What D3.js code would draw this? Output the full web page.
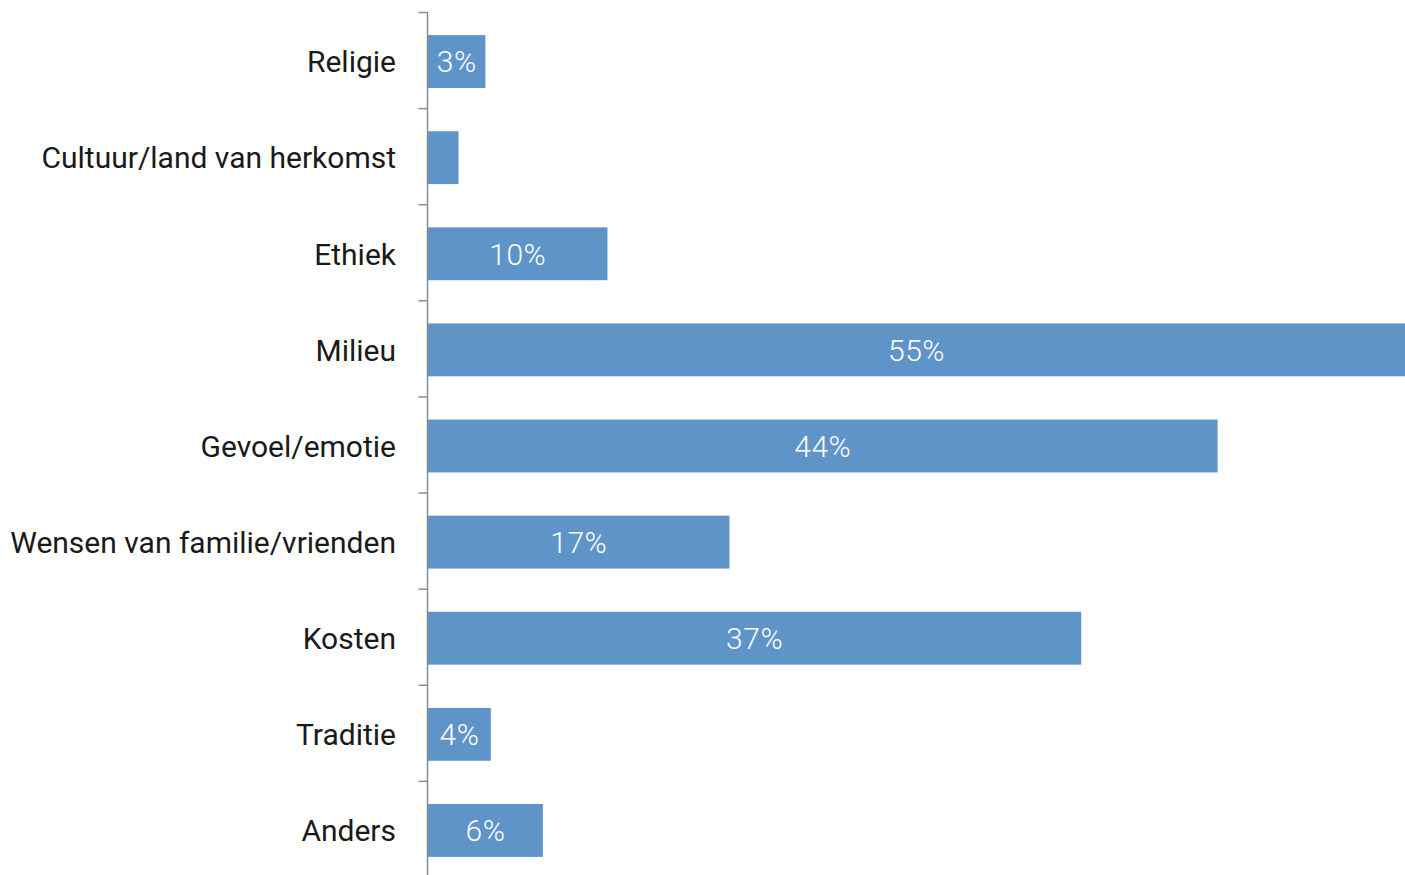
<!DOCTYPE html>
<html>
<head>
<meta charset="utf-8">
<script src="https://cdn.jsdelivr.net/npm/d3@7"></script>
<style>
  body { margin: 0; background: #fff; overflow: hidden; }
</style>
</head>
<body>
<div id="chart"></div>
<script>
// data
const categories = ["Religie", "Cultuur/land van herkomst", "Ethiek", "Milieu",
    "Gevoel/emotie", "Wensen van familie/vrienden", "Kosten", "Traditie", "Anders"];
const values = [3.2, 1.7, 10.0, 55.0, 44.0, 16.8, 36.4, 3.5, 6.4];
const valueLabels = ["3%", "", "10%", "55%", "44%", "17%", "37%", "4%", "6%"];

const width = 1405;
const height = 875;
const axisX = 427.5;

const data = categories.map((c, i) => ({ cat: c, value: values[i], label: valueLabels[i] }));

const svg = d3.select("#chart")
    .append("svg")
    .attr("width", width)
    .attr("height", height);

// scales
const x = d3.scaleLinear()
    .domain([0, 55])
    .range([428, 1415]);

const y = d3.scaleBand()
    .domain(categories)
    .range([13.5, 878.5])
    .paddingInner(0.45)
    .paddingOuter(0.225);

// boundaries between rows, for the tick marks
const yEdge = d3.scaleLinear()
    .domain([0, categories.length])
    .range([12, 877]);

// bars
svg.selectAll(".bar")
    .data(data)
    .enter()
    .append("rect")
    .attr("class", "bar")
    .attr("x", x(0))
    .attr("y", d => y(d.cat))
    .attr("width", d => x(d.value) - x(0))
    .attr("height", y.bandwidth())
    .style("fill", "#5e94c8");

// value labels inside bars
svg.selectAll(".label")
    .data(data)
    .enter()
    .append("text")
    .attr("class", "label")
    .attr("x", d => (x(0) + Math.min(x(d.value), width)) / 2)
    .attr("y", d => y(d.cat) + y.bandwidth() / 2)
    .attr("dy", "0.36em")
    .attr("text-anchor", "middle")
    .style("font-family", "Roboto, sans-serif")
    .style("font-weight", 300)
    .style("font-size", "30px")
    .style("letter-spacing", "0.5px")
    .style("fill", "#fff")
    .text(d => d.label);

// axis with ticks at row boundaries
const axis = svg.append("g")
    .attr("transform", `translate(${axisX},0)`)
    .call(d3.axisLeft(yEdge).ticks(categories.length).tickFormat("").tickSize(9).tickSizeOuter(0));

axis.select(".domain").attr("stroke", "#8c8c8c").attr("stroke-width", 1.5)
    .attr("d", `M0,12V${height}`);
axis.selectAll(".tick line").attr("stroke", "#8c8c8c").attr("stroke-width", 1.5);

// category labels
svg.selectAll(".cat")
    .data(data)
    .enter()
    .append("text")
    .attr("class", "cat")
    .attr("x", 396)
    .attr("y", d => y(d.cat) + y.bandwidth() / 2)
    .attr("dy", "0.36em")
    .attr("text-anchor", "end")
    .style("font-family", "Roboto, sans-serif")
    .style("font-size", "30px")
    .style("fill", "#1a1a1a")
    .text(d => d.cat);
</script>
</body>
</html>
